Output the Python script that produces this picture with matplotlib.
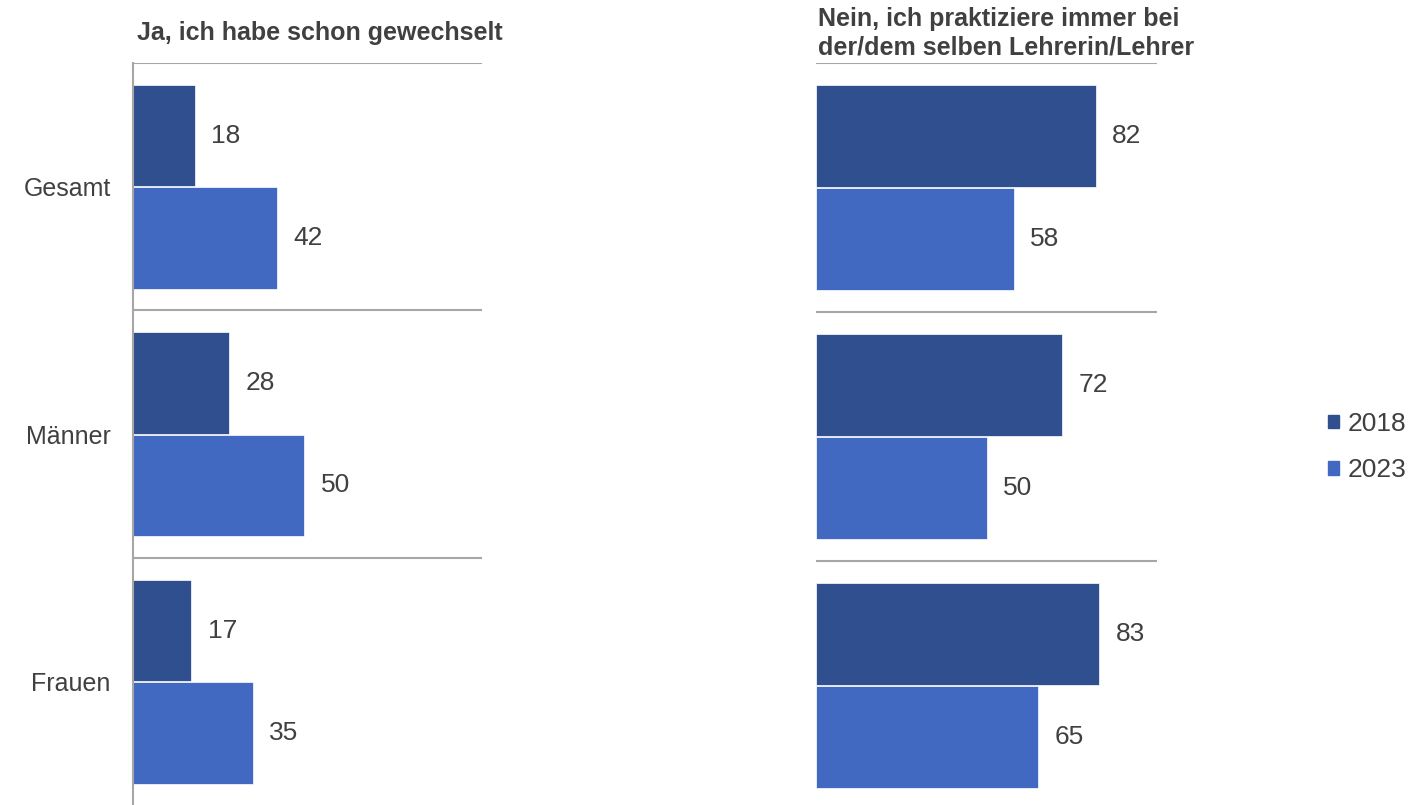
import matplotlib.pyplot as plt
from matplotlib.patches import Patch

plt.rcParams['font.family'] = ['Liberation Sans', 'DejaVu Sans']

categories = ['Gesamt', 'Männer', 'Frauen']
years = ['2018', '2023']
ja_2018 = [18, 28, 17]
ja_2023 = [42, 50, 35]
nein_2018 = [82, 72, 83]
nein_2023 = [58, 50, 65]

title_ja = 'Ja, ich habe schon gewechselt'
title_nein = 'Nein, ich praktiziere immer bei\nder/dem selben Lehrerin/Lehrer'

c2018 = '#2F4F8F'
c2023 = '#4169C1'
txt = '#404040'
grid = '#A6A6A6'

W, H = 1409, 805
fig = plt.figure(figsize=(W / 100, H / 100), dpi=100)

# axes placed in pixel coords (left, top, right, bottom)
ax1 = fig.add_axes([133 / W, 1 - 805.5 / H, 349 / W, 742.5 / H])
ax2 = fig.add_axes([816 / W, 1 - 810 / H, 341 / W, 747 / H])

off = 0.207
bh = 0.41
centers = [i + 0.5 for i in range(len(categories))]

def panel(ax, v18, v23, xmax, show_labels):
    y18 = [c - off for c in centers]
    y23 = [c + off for c in centers]
    ax.barh(y18, v18, height=bh, color=c2018, edgecolor='white', linewidth=0.5)
    ax.barh(y23, v23, height=bh, color=c2023, edgecolor='white', linewidth=0.5)
    for y, v in zip(y18 + y23, v18 + v23):
        ax.annotate(str(v), (v, y), xytext=(12, 0), textcoords='offset points',
                    va='center', ha='left', fontsize=19, color=txt)
    ax.set_xlim(0, xmax)
    ax.set_ylim(len(categories), 0)
    for g in range(len(categories)):
        ax.axhline(g, color=grid, lw=1.5, zorder=0)
    for s in ['top', 'right', 'bottom', 'left']:
        ax.spines[s].set_visible(False)
    if show_labels:
        ax.spines['left'].set_visible(True)
        ax.spines['left'].set_color(grid)
        ax.spines['left'].set_linewidth(1.5)
        ax.set_yticks(centers)
        ax.set_yticklabels(categories, fontsize=18, color=txt)
        ax.tick_params(axis='y', length=0, pad=16)
    else:
        ax.set_yticks([])
    ax.set_xticks([])

panel(ax1, ja_2018, ja_2023, 102, True)
panel(ax2, nein_2018, nein_2023, 100, False)

fig.text(137 / W, 1 - 33 / H, title_ja, fontsize=18, fontweight='bold',
         color=txt, ha='left', va='center')
fig.text(818 / W, 1 - 33 / H, title_nein, fontsize=18, fontweight='bold',
         color=txt, ha='left', va='center', linespacing=1.22)

handles = [Patch(color=c2018), Patch(color=c2023)]
fig.legend(handles, years, loc='center left', bbox_to_anchor=(1317 / W, 1 - 447 / H),
           frameon=False, fontsize=19, labelcolor=txt, handlelength=0.42,
           handleheight=0.42, handletextpad=0.35, labelspacing=0.85,
           borderaxespad=0, borderpad=0.4)

fig.savefig('out.png', dpi=100)
